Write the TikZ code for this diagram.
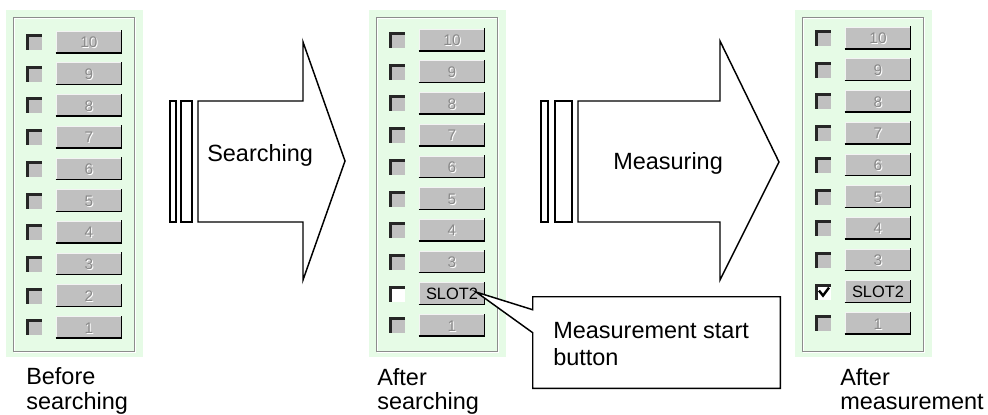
\documentclass[tikz,border=0pt]{standalone}
\usepackage{fontspec}
\setmainfont{Liberation Sans}
\usetikzlibrary{calc}
\definecolor{panelgreen}{HTML}{E6FBE6}
\definecolor{btngray}{HTML}{C0C0C0}
\definecolor{dimtext}{HTML}{8A8A8A}
\definecolor{framegray}{HTML}{8C8C8C}

% one column of ten slot rows: #1 left x, #2 first row centre y, #3 name prefix, #4 state (0 idle, 1 found, 2 measured)
\newcommand{\slotcolumn}[4]{%
  \fill[panelgreen] (#1,10) rectangle (#1+137,357);
  \draw[white, line width=0.75pt] (#1+8,18) rectangle (#1+129,352);
  \draw[framegray, line width=0.75pt] (#1+7,17) rectangle (#1+128,351);
  \foreach \i in {0,...,9} {
    \pgfmathsetmacro{\yc}{#2+31.7*\i}
    \pgfmathtruncatemacro{\lab}{10-\i}
    % check box
    \ifnum\lab=2 \ifnum#4>0
      \fill[white] (#1+20,\yc-8) rectangle (#1+36,\yc+8);
    \else
      \fill[btngray] (#1+20,\yc-8) rectangle (#1+36,\yc+8);
    \fi\else
      \fill[btngray] (#1+20,\yc-8) rectangle (#1+36,\yc+8);
    \fi
    \fill[black!85] (#1+20,\yc-8) rectangle (#1+36,\yc-5);
    \fill[black!85] (#1+20,\yc-8) rectangle (#1+23,\yc+8);
    \ifnum\lab=2 \ifnum#4=2
      \draw[black, line width=1.8pt, line join=miter] (#1+24,\yc-1) -- (#1+28,\yc+4) -- (#1+34,\yc-4);
    \fi\fi
    % push button
    \node[btn] (#3b\lab) at (#1+83,\yc) {};
    \draw[white!80!btngray, line width=0.75pt] (#3b\lab.south west) -- (#3b\lab.north west) -- (#3b\lab.north east);
    \draw[black, line width=1.1pt] ($(#3b\lab.south west)+(-1,0)$) -- (#3b\lab.south east) -- ($(#3b\lab.north east)+(0,-1)$);
    \ifnum\lab=2 \ifnum#4>0
      \node[slotlabel] at (#1+83,\yc+0.5) {SLOT2};
    \else
      \node[btnlabel, text=white] at (#1+84,\yc+1.5) {\lab};
      \node[btnlabel, text=dimtext] at (#1+83,\yc+0.5) {\lab};
    \fi\else
      \node[btnlabel, text=white] at (#1+84,\yc+1.5) {\lab};
      \node[btnlabel, text=dimtext] at (#1+83,\yc+0.5) {\lab};
    \fi
  }%
}

\begin{document}
\begin{tikzpicture}[x=0.75pt, y=-0.75pt,
  btn/.style={fill=btngray, draw=none, minimum width=48pt, minimum height=15.75pt, inner sep=0pt},
  btnlabel/.style={font=\fontsize{11.5pt}{12pt}\selectfont, inner sep=0pt},
  slotlabel/.style={font=\fontsize{12.3pt}{13pt}\selectfont, inner sep=0pt, text=black},
  bigtext/.style={font=\fontsize{17.6pt}{20pt}\selectfont, inner sep=0pt, anchor=base west},
  outline/.style={draw=black, line width=1.1pt, line join=miter}]
\useasboundingbox (0,0) rectangle (988,414);
\fill[white] (0,0) rectangle (988,414);

% the three slot columns
\slotcolumn{6}{42}{pa}{0}
\slotcolumn{369}{40}{pb}{1}
\slotcolumn{795}{38}{pc}{2}

% captions below the columns
\node[bigtext] (capa1) at (26,384) {Before};
\node[bigtext] (capa2) at (26,409) {searching};
\node[bigtext] (capb1) at (377,385) {After};
\node[bigtext] (capb2) at (377,409) {searching};
\node[bigtext] (capc1) at (840,385) {After};
\node[bigtext] (capc2) at (840,409) {measurement};

% first block arrow
\draw[outline] (170,101) rectangle (176,222);
\draw[outline] (181,101) rectangle (192,222);
\draw[outline] (198,101) -- (303,101) -- (303,42) -- (345,161) -- (303,280) -- (303,222) -- (198,222) -- cycle;
\node[bigtext] (search) at (207,161) {Searching};

% second block arrow
\draw[outline] (541,101) rectangle (548,222);
\draw[outline] (555,101) rectangle (572,222);
\draw[outline] (578,101) -- (720,101) -- (720,41) -- (779,162) -- (720,280) -- (720,222) -- (578,222) -- cycle;
\node[bigtext] (measure) at (613,169) {Measuring};

% callout pointing at the measurement start button
\node[minimum width=185.25pt, minimum height=68.25pt, inner sep=0pt] (callout) at (656.5,342.5) {};
\coordinate (tip) at ($(pbb2.east)+(-8,-1.5)$);
\draw[outline, fill=white] (callout.north west) -- (callout.north east) -- (callout.south east)
  -- (callout.south west) -- ($(callout.north west)+(0,36)$) -- (tip) -- ($(callout.north west)+(0,13)$) -- cycle;
\node[bigtext] (calltext1) at (553,338) {Measurement start};
\node[bigtext] (calltext2) at (553,365) {button};
\end{tikzpicture}
\end{document}
